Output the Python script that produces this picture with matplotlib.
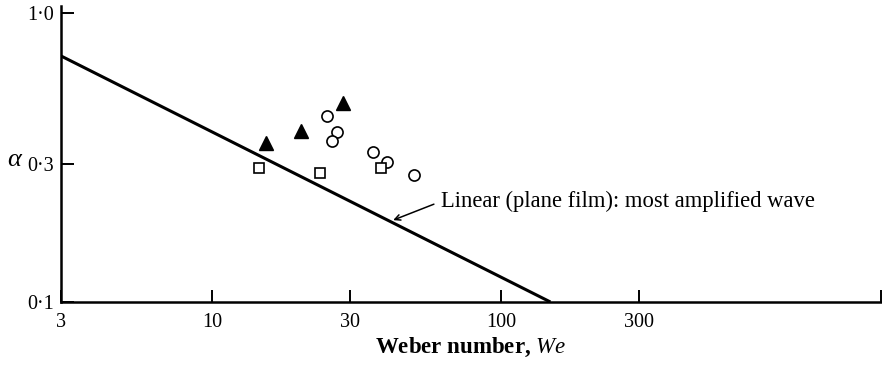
import matplotlib
matplotlib.use("Agg")
import matplotlib.pyplot as plt

plt.rcParams["font.family"] = ["Liberation Serif", "DejaVu Serif"]
plt.rcParams["mathtext.fontset"] = "custom"
plt.rcParams["mathtext.rm"] = "Liberation Serif"
plt.rcParams["mathtext.it"] = "Liberation Serif:italic"
plt.rcParams["mathtext.bf"] = "Liberation Serif:bold"

# linear theory (plane film): most amplified wave
line_we = [3, 148]
line_alpha = [0.71, 0.1]

# experimental points
tri_we = [15.4, 20.3, 28.4]
tri_alpha = [0.356, 0.391, 0.489]

circ_we = [24.9, 27.0, 26.0, 36.1, 40.2, 49.9]
circ_alpha = [0.440, 0.387, 0.361, 0.330, 0.306, 0.274]

sq_we = [14.5, 23.6, 38.3]
sq_alpha = [0.290, 0.280, 0.290]

x_ticks = [3, 10, 30, 100, 300]
x_labels = ["3", "10", "30", "100", "300"]
y_ticks = [0.1, 0.3, 1.0]
y_labels = ["0·1", "0·3", "1·0"]

fig = plt.figure(figsize=(8.82, 3.66), dpi=100)
ax = fig.add_axes([61 / 882, 1 - 302 / 366, 820 / 882, 296 / 366])

ax.plot(line_we, line_alpha, color="black", lw=2.2, solid_capstyle="butt")
ax.plot(tri_we, tri_alpha, "^", color="black", ms=9.5, mec="black")
ax.plot(circ_we, circ_alpha, "o", mfc="white", mec="black", ms=8, mew=1.2)
ax.plot(sq_we, sq_alpha, "s", mfc="white", mec="black", ms=7.5, mew=1.2)

ax.set_xscale("log")
ax.set_yscale("log")
ax.set_xlim(3, 2060)
ax.set_ylim(0.1, 1.057)

ax.minorticks_off()
ax.set_xticks(x_ticks + [2060])
ax.set_xticklabels(x_labels + [""])
ax.set_yticks(y_ticks)
ax.set_yticklabels(y_labels)
ax.tick_params(axis="both", direction="in", length=9, width=1.4,
               labelsize=14.5, colors="black")
ax.tick_params(axis="x", pad=8)
ax.tick_params(axis="y", pad=5)

for side in ["top", "right"]:
    ax.spines[side].set_visible(False)
for side in ["left", "bottom"]:
    ax.spines[side].set_linewidth(1.8)

ax.set_xlabel(r"Weber number, $\mathbf{\mathit{We}}$", fontsize=16.5,
              fontweight="bold", labelpad=3)
fig.text(14 / 882, 1 - 160 / 366, "α", fontsize=19, style="italic",
         ha="center", va="center")

ax.text(62, 0.223, "Linear (plane film): most amplified wave",
        fontsize=16.3, va="center", ha="left")
ax.annotate("", xy=(42.3, 0.192), xytext=(58.5, 0.218),
            arrowprops=dict(arrowstyle="->", color="black", lw=1.1,
                            shrinkA=0, shrinkB=0))

fig.savefig("out.png", dpi=100)
